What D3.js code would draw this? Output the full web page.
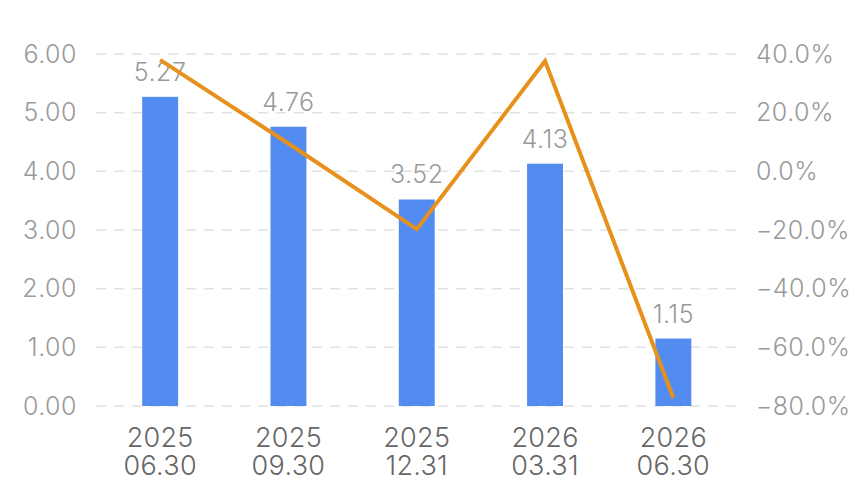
<!DOCTYPE html>
<meta charset="utf-8">
<style>
body { margin: 0; background: #fff; }
svg text { font-family: Inter, "Liberation Sans", sans-serif; font-weight: 300; }
.grid line { stroke: #e2e2e2; stroke-width: 1.5px; stroke-dasharray: 10 8; }
.ylab { font-size: 25px; fill: #9a9a9a; letter-spacing: 0.5px; }
.xlab { font-size: 27px; fill: #666; letter-spacing: 0.3px; }
.val { font-size: 25px; fill: #9a9a9a; letter-spacing: 0.5px; }
.bar { fill: #528cf0; }
.line { fill: none; stroke: #e8901c; stroke-width: 4px; stroke-linejoin: miter; }
</style>
<svg width="867" height="500"></svg>
<script src="https://cdn.jsdelivr.net/npm/d3@7"></script>
<script>

var years = ["2025", "2025", "2025", "2026", "2026"];
var dates = ["06.30", "09.30", "12.31", "03.31", "06.30"];
var eps = [5.27, 4.76, 3.52, 4.13, 1.15];
var growth = [38.0, 9.5, -19.7, 37.6, -77.3];
var leftTicks = [0, 1, 2, 3, 4, 5, 6];
var rightTicks = [-80, -60, -40, -20, 0, 20, 40];

var svg = d3.select("svg");

var x = d3.scaleBand()
    .domain(d3.range(eps.length))
    .range([96, 737.5])
    .paddingInner(0.72)
    .paddingOuter(0.36);

var yL = d3.scaleLinear().domain([0, 6]).range([406, 54]);
var yR = d3.scaleLinear().domain([-80, 40]).range([406, 54]);

function cx(i) { return x(i) + x.bandwidth() / 2; }

// dashed grid
svg.append("g").attr("class", "grid")
  .selectAll("line")
  .data(leftTicks)
  .enter().append("line")
    .attr("x1", 96).attr("x2", 737)
    .attr("y1", d => yL(d)).attr("y2", d => yL(d));

// left axis
svg.append("g").attr("transform", "translate(77,0)")
    .call(d3.axisLeft(yL).tickValues(leftTicks).tickFormat(d3.format(".2f")).tickSize(0).tickPadding(0))
    .call(g => g.select(".domain").remove())
    .selectAll("text").attr("class", "ylab").attr("fill", null);

svg.selectAll("g").attr("font-family", null).attr("font-size", null);

// right axis
svg.append("g").attr("transform", "translate(756,0)")
    .call(d3.axisRight(yR).tickValues(rightTicks).tickFormat(d => d3.format(".1f")(d).replace("-", "\u2212") + "%").tickSize(0).tickPadding(0))
    .call(g => g.select(".domain").remove())
    .attr("font-family", null).attr("font-size", null)
    .selectAll("text").attr("class", "ylab").attr("fill", null);

// bars
svg.selectAll(".bar")
  .data(eps)
  .enter().append("rect")
    .attr("class", "bar")
    .attr("x", (d, i) => x(i))
    .attr("width", x.bandwidth())
    .attr("y", d => yL(d))
    .attr("height", d => yL(0) - yL(d));

// value labels
svg.selectAll(".val")
  .data(eps)
  .enter().append("text")
    .attr("class", "val")
    .attr("text-anchor", "middle")
    .attr("x", (d, i) => cx(i))
    .attr("y", d => yL(d) - 16)
    .text(d => d3.format(".2f")(d));

// growth line
var line = d3.line()
    .x((d, i) => cx(i))
    .y(d => yR(d));

svg.append("path")
    .datum(growth)
    .attr("class", "line")
    .attr("d", line);

// x labels, two lines
svg.selectAll(".xyear")
  .data(years)
  .enter().append("text")
    .attr("class", "xlab xyear")
    .attr("text-anchor", "middle")
    .attr("x", (d, i) => cx(i))
    .attr("y", 447)
    .text(d => d);

svg.selectAll(".xdate")
  .data(dates)
  .enter().append("text")
    .attr("class", "xlab xdate")
    .attr("text-anchor", "middle")
    .attr("x", (d, i) => cx(i))
    .attr("y", 475)
    .text(d => d);

</script>
